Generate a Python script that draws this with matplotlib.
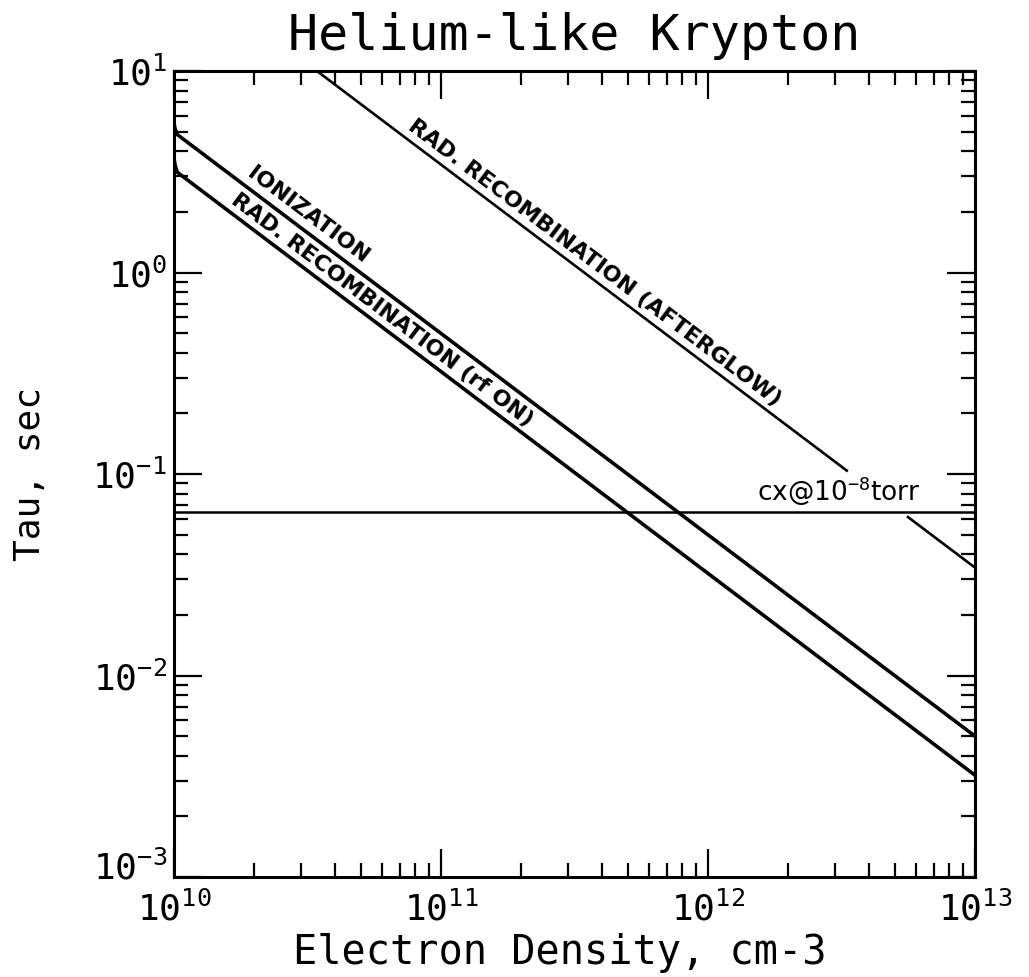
import math
import matplotlib
matplotlib.use('Agg')
import matplotlib.pyplot as plt
from matplotlib.ticker import NullFormatter
from matplotlib.transforms import ScaledTranslation

# data
ion_x = [1.0e10, 1.01e10, 1.03e10, 1.0e13]
ion_y = [5.5, 5.15, 4.83, 0.0050]

rfon_x = [1.0e10, 1.01e10, 1.03e10, 1.0e13]
rfon_y = [3.7, 3.4, 3.14, 0.0032]

# afterglow line is broken where the cx label sits
glow_x = [3.43e10, 3.34e12, float('nan'), 5.56e12, 1.0e13]
glow_y = [10.0, 0.103, float('nan'), 0.0617, 0.0343]

cx_x = [1.0e10, 1.0e13]
cx_y = [0.065, 0.065]

x_ticks = [1e10, 1e11, 1e12, 1e13]
x_tick_labels = ['$10^{10}$', '$10^{11}$', '$10^{12}$', '$10^{13}$']
y_ticks = [1e-3, 1e-2, 1e-1, 1e0, 1e1]
y_tick_labels = ['$10^{-3}$', '$10^{-2}$', '$10^{-1}$', '$10^{0}$', '$10^{1}$']

plt.rcParams['font.family'] = 'DejaVu Sans Mono'
plt.rcParams['mathtext.fontset'] = 'custom'
plt.rcParams['mathtext.rm'] = 'DejaVu Sans Mono'
plt.rcParams['mathtext.it'] = 'DejaVu Sans Mono'

W, H = 1029, 977
fig = plt.figure(figsize=(W / 100, H / 100), dpi=100)
ax = fig.add_axes([174 / W, 1 - 877 / H, (975 - 174) / W, (877 - 71) / H])
ax.set_xscale('log')
ax.set_yscale('log')
ax.set_xlim(1e10, 1e13)
ax.set_ylim(1e-3, 1e1)

ax.plot(ion_x, ion_y, color='black', lw=2.6, solid_capstyle='butt')
ax.plot(rfon_x, rfon_y, color='black', lw=2.6, solid_capstyle='butt')
ax.plot(glow_x, glow_y, color='black', lw=1.9, solid_capstyle='butt')
ax.plot(cx_x, cx_y, color='black', lw=1.8)

for s in ax.spines.values():
    s.set_linewidth(2.2)

ax.set_xticks(x_ticks, x_tick_labels)
ax.set_yticks(y_ticks, y_tick_labels)
ax.xaxis.set_minor_formatter(NullFormatter())
ax.yaxis.set_minor_formatter(NullFormatter())
ax.tick_params(which='both', direction='in', top=True, right=True, labelsize=26)
ax.tick_params(which='major', length=20, width=1.6)
ax.tick_params(which='minor', length=10, width=1.6)
ax.tick_params(axis='x', pad=10)
ax.tick_params(axis='y', pad=5)

# lowest y label sits a little above its tick, as in the original
lab = ax.get_yticklabels()[0]
lab.set_transform(lab.get_transform() + ScaledTranslation(0, 9 / 72, fig.dpi_scale_trans))

ax.set_title('Helium-like Krypton', fontsize=36, pad=15)
ax.set_xlabel('Electron Density, cm-3', fontsize=29)
ax.xaxis.set_label_coords(0.482, -0.07)
ax.set_ylabel('Tau, sec', fontsize=26)
ax.yaxis.set_label_coords(-0.158, 0.5)

# angle of a slope -1 line on screen
p1 = ax.transData.transform((1e10, 1.0))
p2 = ax.transData.transform((1e11, 0.1))
ang = math.degrees(math.atan2(p2[1] - p1[1], p2[0] - p1[0]))
nx, ny = -math.sin(math.radians(ang)), math.cos(math.radians(ang))


def line_label(text, x, coef, d, size=16):
    ax.annotate(text, xy=(x, coef / x), xytext=(d * nx, d * ny),
                textcoords='offset points', rotation=ang, rotation_mode='anchor',
                ha='center', va='bottom', fontsize=size, fontweight='bold',
                family='DejaVu Sans')


line_label('IONIZATION', 2.95e10, 4.97e10, 3)
line_label('RAD. RECOMBINATION (rf ON)', 5.6e10, 3.23e10, 2.5)
line_label('RAD. RECOMBINATION (AFTERGLOW)', 3.5e11, 3.43e11, 3)

ax.annotate('cx@10$^{-8}$torr', xy=(3.1e12, 0.065), xytext=(0, 3),
            textcoords='offset points', ha='center', va='bottom',
            fontsize=19, family='DejaVu Sans')

fig.savefig('out.png', dpi=100)
